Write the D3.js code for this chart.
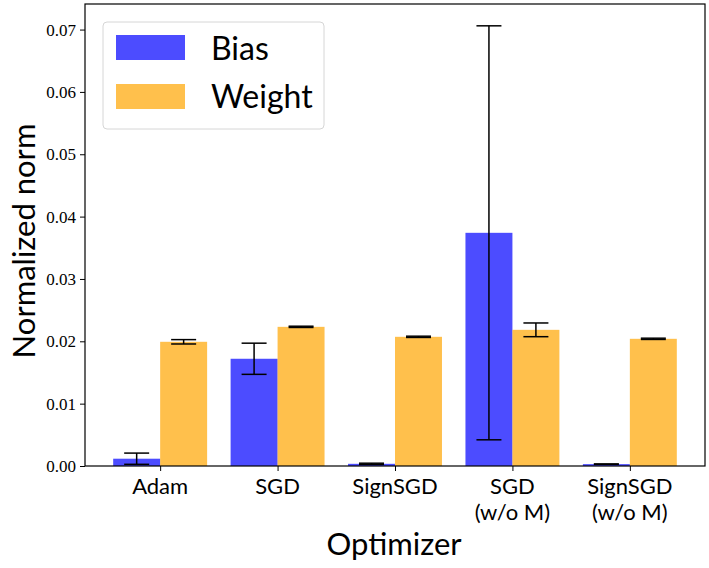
<!DOCTYPE html>
<html>
<head>
<meta charset="utf-8">
<script src="https://cdn.jsdelivr.net/npm/d3@7"></script>
<style>
  body { margin: 0; background: #fff; }
</style>
</head>
<body>
<svg id="canvas" width="709" height="568"></svg>
<script>
// values
let optimizers = ['Adam', 'SGD', 'SignSGD', 'SGD\n(w/o M)', 'SignSGD\n(w/o M)']
let biasMean = [0.00117, 0.0172, 0.00035, 0.0374, 0.0003]
let biasErr = [0.0009, 0.0025, 0.0001, 0.0332, 0.00003]
let weightMean = [0.01992, 0.02232, 0.02072, 0.02184, 0.0204]
let weightErr = [0.00035, 0.0001, 0.0001, 0.0011, 0.0001]
let yTicks = [0, 0.01, 0.02, 0.03, 0.04, 0.05, 0.06, 0.07]
let seriesNames = ['Bias', 'Weight']

let plotLeft = 85, plotRight = 705, plotTop = 4, plotBottom = 466
let barW = 0.4

let canvas = d3.select('#canvas')

let xScale = d3.scaleLinear()
               .domain([-0.64, optimizers.length - 1 + 0.64])
               .range([plotLeft, plotRight])
let yScale = d3.scaleLinear()
               .domain([0, 0.0741])
               .range([plotBottom, plotTop])

let drawBars = (means, errs, offset, color) => {
    let g = canvas.append('g')
    g.selectAll('rect')
     .data(means)
     .enter()
     .append('rect')
     .attr('x', (d, i) => xScale(i + offset - barW / 2))
     .attr('width', xScale(barW) - xScale(0))
     .attr('y', (d) => yScale(d))
     .attr('height', (d) => yScale(0) - yScale(d))
     .attr('fill', color)
     .attr('fill-opacity', 0.7)

    let capHalf = 12.5
    let eb = g.selectAll('g.err')
              .data(means)
              .enter()
              .append('g')
              .attr('stroke', 'black')
              .attr('stroke-width', 1.5)
    eb.append('line')
      .attr('x1', (d, i) => xScale(i + offset))
      .attr('x2', (d, i) => xScale(i + offset))
      .attr('y1', (d, i) => yScale(d - errs[i]))
      .attr('y2', (d, i) => yScale(d + errs[i]))
    ;[1, -1].forEach((s) => {
        eb.append('line')
          .attr('x1', (d, i) => xScale(i + offset) - capHalf)
          .attr('x2', (d, i) => xScale(i + offset) + capHalf)
          .attr('y1', (d, i) => yScale(d + s * errs[i]))
          .attr('y2', (d, i) => yScale(d + s * errs[i]))
    })
}

drawBars(biasMean, biasErr, -0.2, 'blue')
drawBars(weightMean, weightErr, 0.2, 'orange')

// y axis
let yAxis = d3.axisLeft(yScale)
              .tickValues(yTicks)
              .tickFormat(d3.format('.2f'))
              .tickSize(5)
              .tickPadding(4)
canvas.append('g')
      .attr('transform', 'translate(' + plotLeft + ',0)')
      .call(yAxis)
      .call(g => g.select('.domain').remove())
      .selectAll('text')
      .style('font-family', "'Liberation Serif', 'DejaVu Serif', serif")
      .style('font-size', '17px')
      .attr('fill', 'black')

// x axis
let xAxis = d3.axisBottom(xScale)
              .tickValues(d3.range(optimizers.length))
              .tickFormat('')
              .tickSize(5)
canvas.append('g')
      .attr('transform', 'translate(0,' + plotBottom + ')')
      .call(xAxis)
      .call(g => g.select('.domain').remove())

canvas.append('g')
      .selectAll('text')
      .data(optimizers)
      .enter()
      .append('text')
      .attr('x', (d, i) => xScale(i))
      .attr('y', 494)
      .attr('text-anchor', 'middle')
      .attr('font-family', 'Lato, sans-serif')
      .attr('font-size', 22)
      .each(function(d) {
          d.split('\n').forEach((line, k) => {
              d3.select(this).append('tspan')
                .attr('x', d3.select(this).attr('x'))
                .attr('dy', k === 0 ? 0 : 26)
                .text(line)
          })
      })

// frame
canvas.append('rect')
      .attr('x', plotLeft)
      .attr('y', plotTop)
      .attr('width', plotRight - plotLeft)
      .attr('height', plotBottom - plotTop)
      .attr('fill', 'none')
      .attr('stroke', 'black')
      .attr('stroke-width', 1.2)

// axis titles
canvas.append('text')
      .attr('x', 394)
      .attr('y', 555)
      .attr('text-anchor', 'middle')
      .attr('font-family', 'Lato, sans-serif')
      .attr('font-size', 31)
      .text('Optimizer')
canvas.append('text')
      .attr('transform', 'translate(35,241) rotate(-90)')
      .attr('text-anchor', 'middle')
      .attr('font-family', 'Lato, sans-serif')
      .attr('font-size', 31)
      .text('Normalized norm')

// legend
let legend = canvas.append('g')
legend.append('rect')
      .attr('x', 103)
      .attr('y', 22)
      .attr('width', 221)
      .attr('height', 107)
      .attr('rx', 4)
      .attr('fill', 'white')
      .attr('fill-opacity', 0.8)
      .attr('stroke', '#d6d6d6')
let legendColors = ['blue', 'orange']
seriesNames.forEach((name, i) => {
    legend.append('rect')
          .attr('x', 116)
          .attr('y', 35 + i * 49)
          .attr('width', 69)
          .attr('height', 25)
          .attr('fill', legendColors[i])
          .attr('fill-opacity', 0.7)
    legend.append('text')
          .attr('x', 211)
          .attr('y', 60 + i * 48)
          .attr('font-family', 'Lato, sans-serif')
          .attr('font-size', 32)
          .text(name)
})
</script>
</body>
</html>
